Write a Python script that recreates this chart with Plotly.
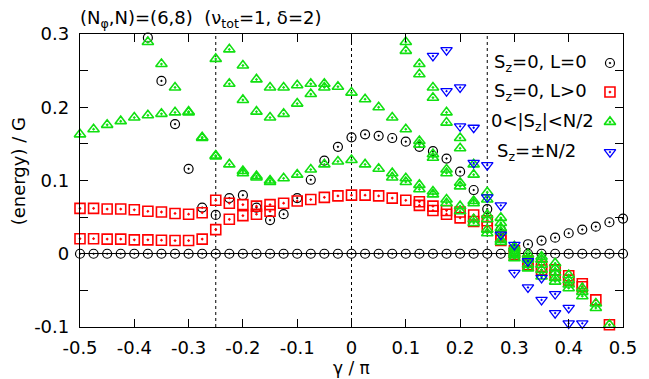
import plotly.graph_objects as go

N = None

# coupling grid gamma/pi
gamma = [-0.5, -0.475, -0.45, -0.425, -0.4, -0.375, -0.35, -0.325, -0.3, -0.275,
         -0.25, -0.225, -0.2, -0.175, -0.15, -0.125, -0.1, -0.075, -0.05, -0.025,
         0.0, 0.025, 0.05, 0.075, 0.1, 0.125, 0.15, 0.175, 0.2, 0.225,
         0.25, 0.275, 0.3, 0.325, 0.35, 0.375, 0.4, 0.425, 0.45, 0.475, 0.5]

# S_z = 0, L = 0
sz0_l0_ground = [0.0] * 41
sz0_l0_excited = [N, N, N, N, N, 0.295, 0.236, 0.177, 0.116, 0.063,
                  0.053, 0.076, 0.080, 0.063, 0.046, 0.054, 0.076, 0.101, 0.127, 0.146,
                  0.159, 0.163, 0.161, 0.158, 0.153, 0.146, 0.140, 0.130, 0.112, 0.087,
                  0.061, 0.033, 0.003, 0.013, 0.018, 0.022, 0.028, 0.033, 0.037, 0.043,
                  0.048]

# S_z = 0, L > 0
sz0_lpos_a = [0.062, 0.062, 0.061, 0.061, 0.060, 0.058, 0.057, 0.055, 0.054, 0.056,
              0.073, 0.069, 0.067, 0.065, 0.067, 0.069, 0.072, 0.074, 0.077, 0.079,
              0.080, 0.080, 0.079, 0.076, 0.073, 0.071, 0.065, 0.059, 0.057, 0.053,
              0.045, 0.024, 0.004, -0.010, -0.017, -0.022, -0.030, -0.041, -0.063, -0.097,
              N]
sz0_lpos_b = [0.0205, 0.0205, 0.020, 0.020, 0.019, 0.019, 0.0185, 0.018, 0.018, 0.020,
              0.033, 0.047, 0.052, 0.054, 0.058, N, N, N, N, N,
              N, N, N, N, N, 0.066, 0.059, 0.054, 0.049, 0.044,
              0.037, 0.018, -0.001, -0.015, -0.022, -0.029, -0.036, -0.045, N, N,
              N]

# 0 < |S_z| < N/2
szmid_a = [0.163, 0.170, 0.176, 0.181, 0.186, 0.189, 0.191, 0.193, 0.193, 0.158,
           0.133, 0.122, 0.113, 0.106, 0.100, 0.103, 0.108, 0.115, 0.122, 0.126,
           0.128, 0.122, 0.116, 0.110, 0.103, 0.094, 0.085, 0.074, 0.065, 0.047,
           0.033, 0.019, 0.003, -0.001, -0.004, -0.013, -0.029, -0.047, -0.068, -0.097,
           N]
szmid_a2 = [N, N, N, N, N, N, N, N, N, N,
            N, N, 0.110, 0.104, 0.098, N, N, N, N, N,
            N, N, N, 0.104, 0.098, 0.088, 0.081, 0.069, 0.058, 0.042,
            0.028, 0.016, -0.002, -0.006, -0.008, -0.020, -0.036, -0.052, -0.074, N,
            N]
szmid_b = [0.301, N, N, N, N, 0.289, 0.259, 0.227, 0.194, 0.159,
           0.134, N, N, N, N, N, N, N, N, N,
           N, N, N, N, N, N, N, N, N, N,
           N, N, N, N, N, N, N, N, N, N,
           N]
szmid_c = [N, N, N, N, N, N, N, N, N, N,
           0.266, 0.279, 0.257, 0.238, 0.227, 0.227, 0.230, 0.232, 0.232, 0.228,
           0.220, 0.211, 0.200, 0.186, 0.170, 0.154, 0.136, 0.115, 0.097, 0.072,
           0.053, 0.035, 0.007, -0.008, -0.015, -0.026, -0.042, -0.058, N, N,
           N]
szmid_c2 = [N, N, N, N, N, N, N, N, N, N,
            N, N, N, N, N, N, N, N, N, N,
            N, N, N, N, N, 0.149, 0.131, 0.110, 0.092, 0.069,
            0.047, 0.030, 0.000, -0.015, -0.022, -0.033, N, N, N, N,
            N]
szmid_d = [N, N, N, N, N, N, N, N, N, N,
           N, 0.232, 0.210, 0.194, 0.186, 0.191, 0.205, 0.218, 0.227, N,
           N, N, N, N, N, N, N, N, N, N,
           N, N, N, N, N, N, N, N, N, N,
           N]
szmid_e = [N, N, N, N, N, N, N, N, N, N,
           N, N, N, N, N, N, N, N, N, N,
           N, N, N, N, 0.289, 0.259, 0.227, 0.193, 0.158, 0.122,
           0.084, 0.049, 0.010, N, N, N, N, N, N, N,
           N]
szmid_e2 = [N, N, N, N, N, N, N, N, N, N,
            N, N, N, N, N, N, N, N, N, N,
            N, N, N, N, 0.277, 0.245, 0.213, 0.179, 0.144, 0.108,
            0.074, 0.042, -0.006, -0.020, -0.031, -0.038, -0.047, N, N, N,
            N]

# S_z = +-N/2
szmax_a = [N, N, N, N, N, N, N, N, N, N,
           N, N, N, N, N, N, N, N, N, N,
           N, N, N, N, N, N, 0.270, 0.222, 0.174, 0.124,
           0.077, 0.026, -0.026, -0.046, -0.063, -0.081, -0.095, N, N, N,
           N]
szmax_b = [N, N, N, N, N, N, N, N, N, N,
           N, N, N, N, N, N, N, N, N, N,
           N, N, N, N, N, N, N, 0.278, 0.227, 0.172,
           0.121, 0.066, 0.012, -0.010, -0.033, -0.055, -0.074, -0.095, N, N,
           N]

x_ticks = [-0.5, -0.4, -0.3, -0.2, -0.1, 0.0, 0.1, 0.2, 0.3, 0.4, 0.5]
x_ticktext = ["-0.5", "-0.4", "-0.3", "-0.2", "-0.1", "0", "0.1", "0.2", "0.3", "0.4", "0.5"]
y_ticks = [-0.1, -0.05, 0.0, 0.05, 0.1, 0.15, 0.2, 0.25, 0.3]
y_ticktext = ["-0.1", "", "0", "", "0.1", "", "0.2", "", "0.3"]
guide_lines = [-0.25, 0.0, 0.25]

legend_labels = ["S<sub>z</sub>=0, L=0", "S<sub>z</sub>=0, L&gt;0",
                 "0&lt;|S<sub>z</sub>|&lt;N/2", "S<sub>z</sub>=±N/2"]

FONT = "DejaVu Sans"

styles = [
    dict(symbol="circle-open-dot", size=9, color="#000000", line=dict(width=1.2)),
    dict(symbol="square-open-dot", size=10, color="#ff0000", line=dict(width=1.6)),
    dict(symbol="triangle-up-open-dot", size=10, color="#11e011", line=dict(width=1.6)),
    dict(symbol="triangle-down-open-dot", size=10, color="#0000ff", line=dict(width=1.3)),
]

groups = [
    [sz0_l0_ground, sz0_l0_excited],
    [sz0_lpos_a, sz0_lpos_b],
    [szmid_a, szmid_a2, szmid_b, szmid_c, szmid_c2, szmid_d, szmid_e, szmid_e2],
    [szmax_a, szmax_b],
]

fig = go.Figure()

for style, levels in zip(styles, groups):
    for level in levels:
        fig.add_trace(go.Scatter(x=gamma, y=level, mode="markers", marker=style,
                                 cliponaxis=False, showlegend=False, hoverinfo="skip"))

# key: label text on the left, symbol sample on the right
key_rows_y = [0.901, 0.802, 0.700, 0.597]
key_text_x = [0.848, 0.848, 0.851, 0.841]
key_symbol_x = 0.976
for style, ry in zip(styles, key_rows_y):
    fig.add_trace(go.Scatter(x=[key_symbol_x], y=[ry], mode="markers", marker=style,
                             xaxis="x2", yaxis="y2", cliponaxis=False,
                             showlegend=False, hoverinfo="skip"))

annotations = []
for label, tx, ry in zip(legend_labels, key_text_x, key_rows_y):
    annotations.append(dict(text=label, x=tx, y=ry, xref="paper", yref="paper",
                            xanchor="center", yanchor="middle", showarrow=False,
                            font=dict(family=FONT, size=18, color="black")))

annotations.append(dict(
    text="(N<sub>φ</sub>,N)=(6,8)&nbsp;&nbsp;(ν<sub>tot</sub>=1, δ=2)",
    x=0.0, y=1.0, xref="paper", yref="paper", xanchor="left", yanchor="bottom",
    yshift=1, xshift=-2, showarrow=False, font=dict(family=FONT, size=18, color="black")))
annotations.append(dict(text="γ / π", x=0.5, y=-0.139, xref="paper", yref="paper",
                        xanchor="center", yanchor="middle", showarrow=False,
                        font=dict(family=FONT, size=17, color="black")))
annotations.append(dict(text="(energy) / G", x=-0.113, y=0.53, xref="paper", yref="paper",
                        xanchor="center", yanchor="middle", textangle=-90, showarrow=False,
                        font=dict(family=FONT, size=18, color="black")))

shapes = [dict(type="line", x0=gx, x1=gx, y0=0, y1=1, xref="x", yref="paper",
               line=dict(color="black", width=1, dash="dot"), layer="below")
          for gx in guide_lines]

axis_common = dict(showline=True, linecolor="black", linewidth=1.3, mirror="ticks",
                   ticks="inside", ticklen=8, tickwidth=1, tickcolor="black",
                   showgrid=False, tickfont=dict(family=FONT, size=18, color="black"))

fig.update_layout(
    width=649, height=379,
    margin=dict(l=80, r=19, t=34, b=52),
    paper_bgcolor="white", plot_bgcolor="white",
    xaxis=dict(range=[-0.5, 0.5], tickvals=x_ticks, ticktext=x_ticktext,
               zeroline=False, ticklabelstandoff=4, **axis_common),
    yaxis=dict(range=[-0.1, 0.3], tickvals=y_ticks, ticktext=y_ticktext,
               zeroline=True, zerolinecolor="black", zerolinewidth=1,
               ticklabelstandoff=6, **axis_common),
    xaxis2=dict(range=[0, 1], overlaying="x", visible=False, fixedrange=True),
    yaxis2=dict(range=[0, 1], overlaying="y", visible=False, fixedrange=True),
    annotations=annotations,
    shapes=shapes,
    showlegend=False,
)

fig.write_html("out.html")
